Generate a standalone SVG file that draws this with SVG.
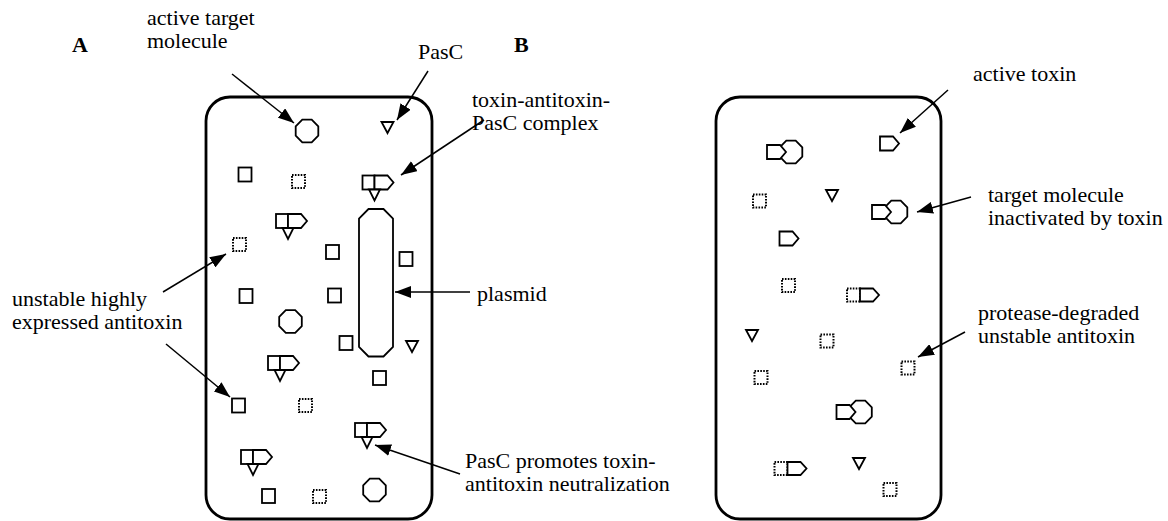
<svg xmlns="http://www.w3.org/2000/svg" width="1168" height="521" viewBox="0 0 1168 521">
  <style>
    .cell { fill: none; stroke: #000; stroke-width: 2.8; }
    .shape { fill: #fff; stroke: #000; stroke-width: 1.8; stroke-linejoin: miter; }
    .dotted { fill: none; stroke: #000; stroke-width: 2; stroke-dasharray: 1.6 1.3; }
    .lbl { font-family: "Liberation Serif", "DejaVu Serif", serif; font-size: 22px; fill: #000; }
    .panel { font-family: "Liberation Serif", "DejaVu Serif", serif; font-size: 22px; font-weight: bold; fill: #000; }
    .conn { stroke: #000; stroke-width: 1.5; fill: none; marker-end: url(#head); }
  </style>
  <defs>
    <marker id="head" viewBox="0 0 16 12" refX="16" refY="6" markerWidth="16" markerHeight="12" markerUnits="userSpaceOnUse" orient="auto">
      <path d="M0,0 L16,6 L0,12 Z" fill="#000"/>
    </marker>
    <!-- stable antitoxin -->
    <rect id="anti" class="shape" x="0" y="0" width="13" height="14"/>
    <!-- degraded antitoxin -->
    <rect id="deg" class="dotted" x="0" y="0" width="13" height="13"/>
    <!-- toxin -->
    <path id="tox" class="shape" d="M0,0 H13 L19,7 L13,14 H0 Z"/>
    <!-- PasC -->
    <path id="pasc" class="shape" d="M0,0 H12 L6,11 Z"/>
    <!-- target molecule -->
    <path id="oct" class="shape" d="M-4.7,-11.3 H4.7 L11.3,-4.7 V4.7 L4.7,11.3 H-4.7 L-11.3,4.7 V-4.7 Z"/>
    <!-- toxin-antitoxin-PasC complex -->
    <g id="tap">
      <rect class="shape" x="0" y="0" width="12" height="14"/>
      <path class="shape" d="M12,0 H25 L31,7 L25,14 H12 Z"/>
      <path class="shape" d="M6.5,14 H17.5 L12,25 Z"/>
    </g>
    <!-- toxin bound to target -->
    <g id="tt">
      <use href="#oct" x="24" y="7"/>
      <path class="shape" d="M0,0 H13 L19,7 L13,14 H0 Z"/>
    </g>
    <!-- toxin released from degraded antitoxin -->
    <g id="dt">
      <rect class="dotted" x="0" y="0" width="13" height="13"/>
      <path class="shape" d="M13,0 H26 L32,6.5 L26,13 H13 Z"/>
    </g>
  </defs>

  <!-- panel letters -->
  <text class="panel" x="72" y="52">A</text>
  <text class="panel" x="514" y="52">B</text>

  <!-- panel A: cell -->
  <g id="cellA">
    <rect class="cell" x="206" y="97" width="226" height="422" rx="24" ry="24"/>
  </g>
  <g id="plasmid">
    <path class="shape" d="M368.5,209 H383.5 L393,218.5 V347 L383.5,356.5 H368.5 L359,347 V218.5 Z"/>
  </g>
  <g id="targetsA">
    <use href="#oct" x="307" y="131"/>
    <use href="#oct" x="290.5" y="321.5"/>
    <use href="#oct" x="374.5" y="490"/>
  </g>
  <g id="pascA">
    <use href="#pasc" x="381.5" y="122"/>
    <use href="#pasc" x="406" y="341"/>
  </g>
  <g id="antitoxinA">
    <use href="#anti" x="238.5" y="167.5"/>
    <use href="#anti" x="326" y="245"/>
    <use href="#anti" x="399.5" y="252"/>
    <use href="#anti" x="239.5" y="289"/>
    <use href="#anti" x="328" y="288.5"/>
    <use href="#anti" x="339.5" y="336"/>
    <use href="#anti" x="373" y="371"/>
    <use href="#anti" x="232" y="398.5"/>
    <use href="#anti" x="262" y="489"/>
  </g>
  <g id="degradedA">
    <use href="#deg" x="292" y="175"/>
    <use href="#deg" x="233" y="238"/>
    <use href="#deg" x="299" y="399"/>
    <use href="#deg" x="313" y="490"/>
  </g>
  <g id="complexA">
    <use href="#tap" x="362.5" y="175.5"/>
    <use href="#tap" x="276" y="214"/>
    <use href="#tap" x="268" y="356"/>
    <use href="#tap" x="355" y="423"/>
    <use href="#tap" x="241" y="450"/>
  </g>

  <!-- panel B: cell -->
  <g id="cellB">
    <rect class="cell" x="716" y="97" width="225" height="422" rx="24" ry="24"/>
  </g>
  <g id="boundB">
    <use href="#tt" x="767" y="145"/>
    <use href="#tt" x="872" y="205"/>
    <use href="#tt" x="836.5" y="405"/>
  </g>
  <g id="toxinB">
    <use href="#tox" x="880" y="136.5"/>
    <use href="#tox" x="779.5" y="231.5"/>
  </g>
  <g id="pascB">
    <use href="#pasc" x="826" y="190"/>
    <use href="#pasc" x="746" y="330"/>
    <use href="#pasc" x="853" y="458"/>
  </g>
  <g id="degradedB">
    <use href="#deg" x="753" y="194.5"/>
    <use href="#deg" x="782" y="279"/>
    <use href="#deg" x="820.5" y="334.5"/>
    <use href="#deg" x="901.5" y="361.5"/>
    <use href="#deg" x="754.5" y="371"/>
    <use href="#deg" x="883.5" y="483"/>
  </g>
  <g id="releasedB">
    <use href="#dt" x="847" y="288.5"/>
    <use href="#dt" x="774.5" y="462"/>
  </g>

  <!-- connectors -->
  <g id="connectors">
    <line class="conn" x1="232" y1="74" x2="294" y2="123"/>
    <line class="conn" x1="428" y1="71" x2="397" y2="120"/>
    <line class="conn" x1="484" y1="120" x2="401" y2="175"/>
    <line class="conn" x1="470" y1="292" x2="395" y2="292"/>
    <line class="conn" x1="163" y1="292" x2="226" y2="254"/>
    <line class="conn" x1="166" y1="344" x2="230" y2="397"/>
    <line class="conn" x1="460" y1="474" x2="375" y2="445"/>
    <line class="conn" x1="948" y1="90" x2="900" y2="133"/>
    <line class="conn" x1="971" y1="197" x2="917" y2="212"/>
    <line class="conn" x1="965" y1="332" x2="918" y2="357"/>
  </g>

  <!-- labels -->
  <g id="labels">
    <text class="lbl" x="147" y="25">active target</text>
    <text class="lbl" x="147" y="48">molecule</text>
    <text class="lbl" x="418" y="59">PasC</text>
    <text class="lbl" x="472" y="107">toxin-antitoxin-</text>
    <text class="lbl" x="472" y="130">PasC complex</text>
    <text class="lbl" x="12" y="306">unstable highly</text>
    <text class="lbl" x="12" y="329">expressed antitoxin</text>
    <text class="lbl" x="477" y="301">plasmid</text>
    <text class="lbl" x="465" y="468">PasC promotes toxin-</text>
    <text class="lbl" x="465" y="491">antitoxin neutralization</text>
    <text class="lbl" x="973" y="81">active toxin</text>
    <text class="lbl" x="988" y="202">target molecule</text>
    <text class="lbl" x="988" y="225">inactivated by toxin</text>
    <text class="lbl" x="978" y="320">protease-degraded</text>
    <text class="lbl" x="978" y="343">unstable antitoxin</text>
  </g>
</svg>
